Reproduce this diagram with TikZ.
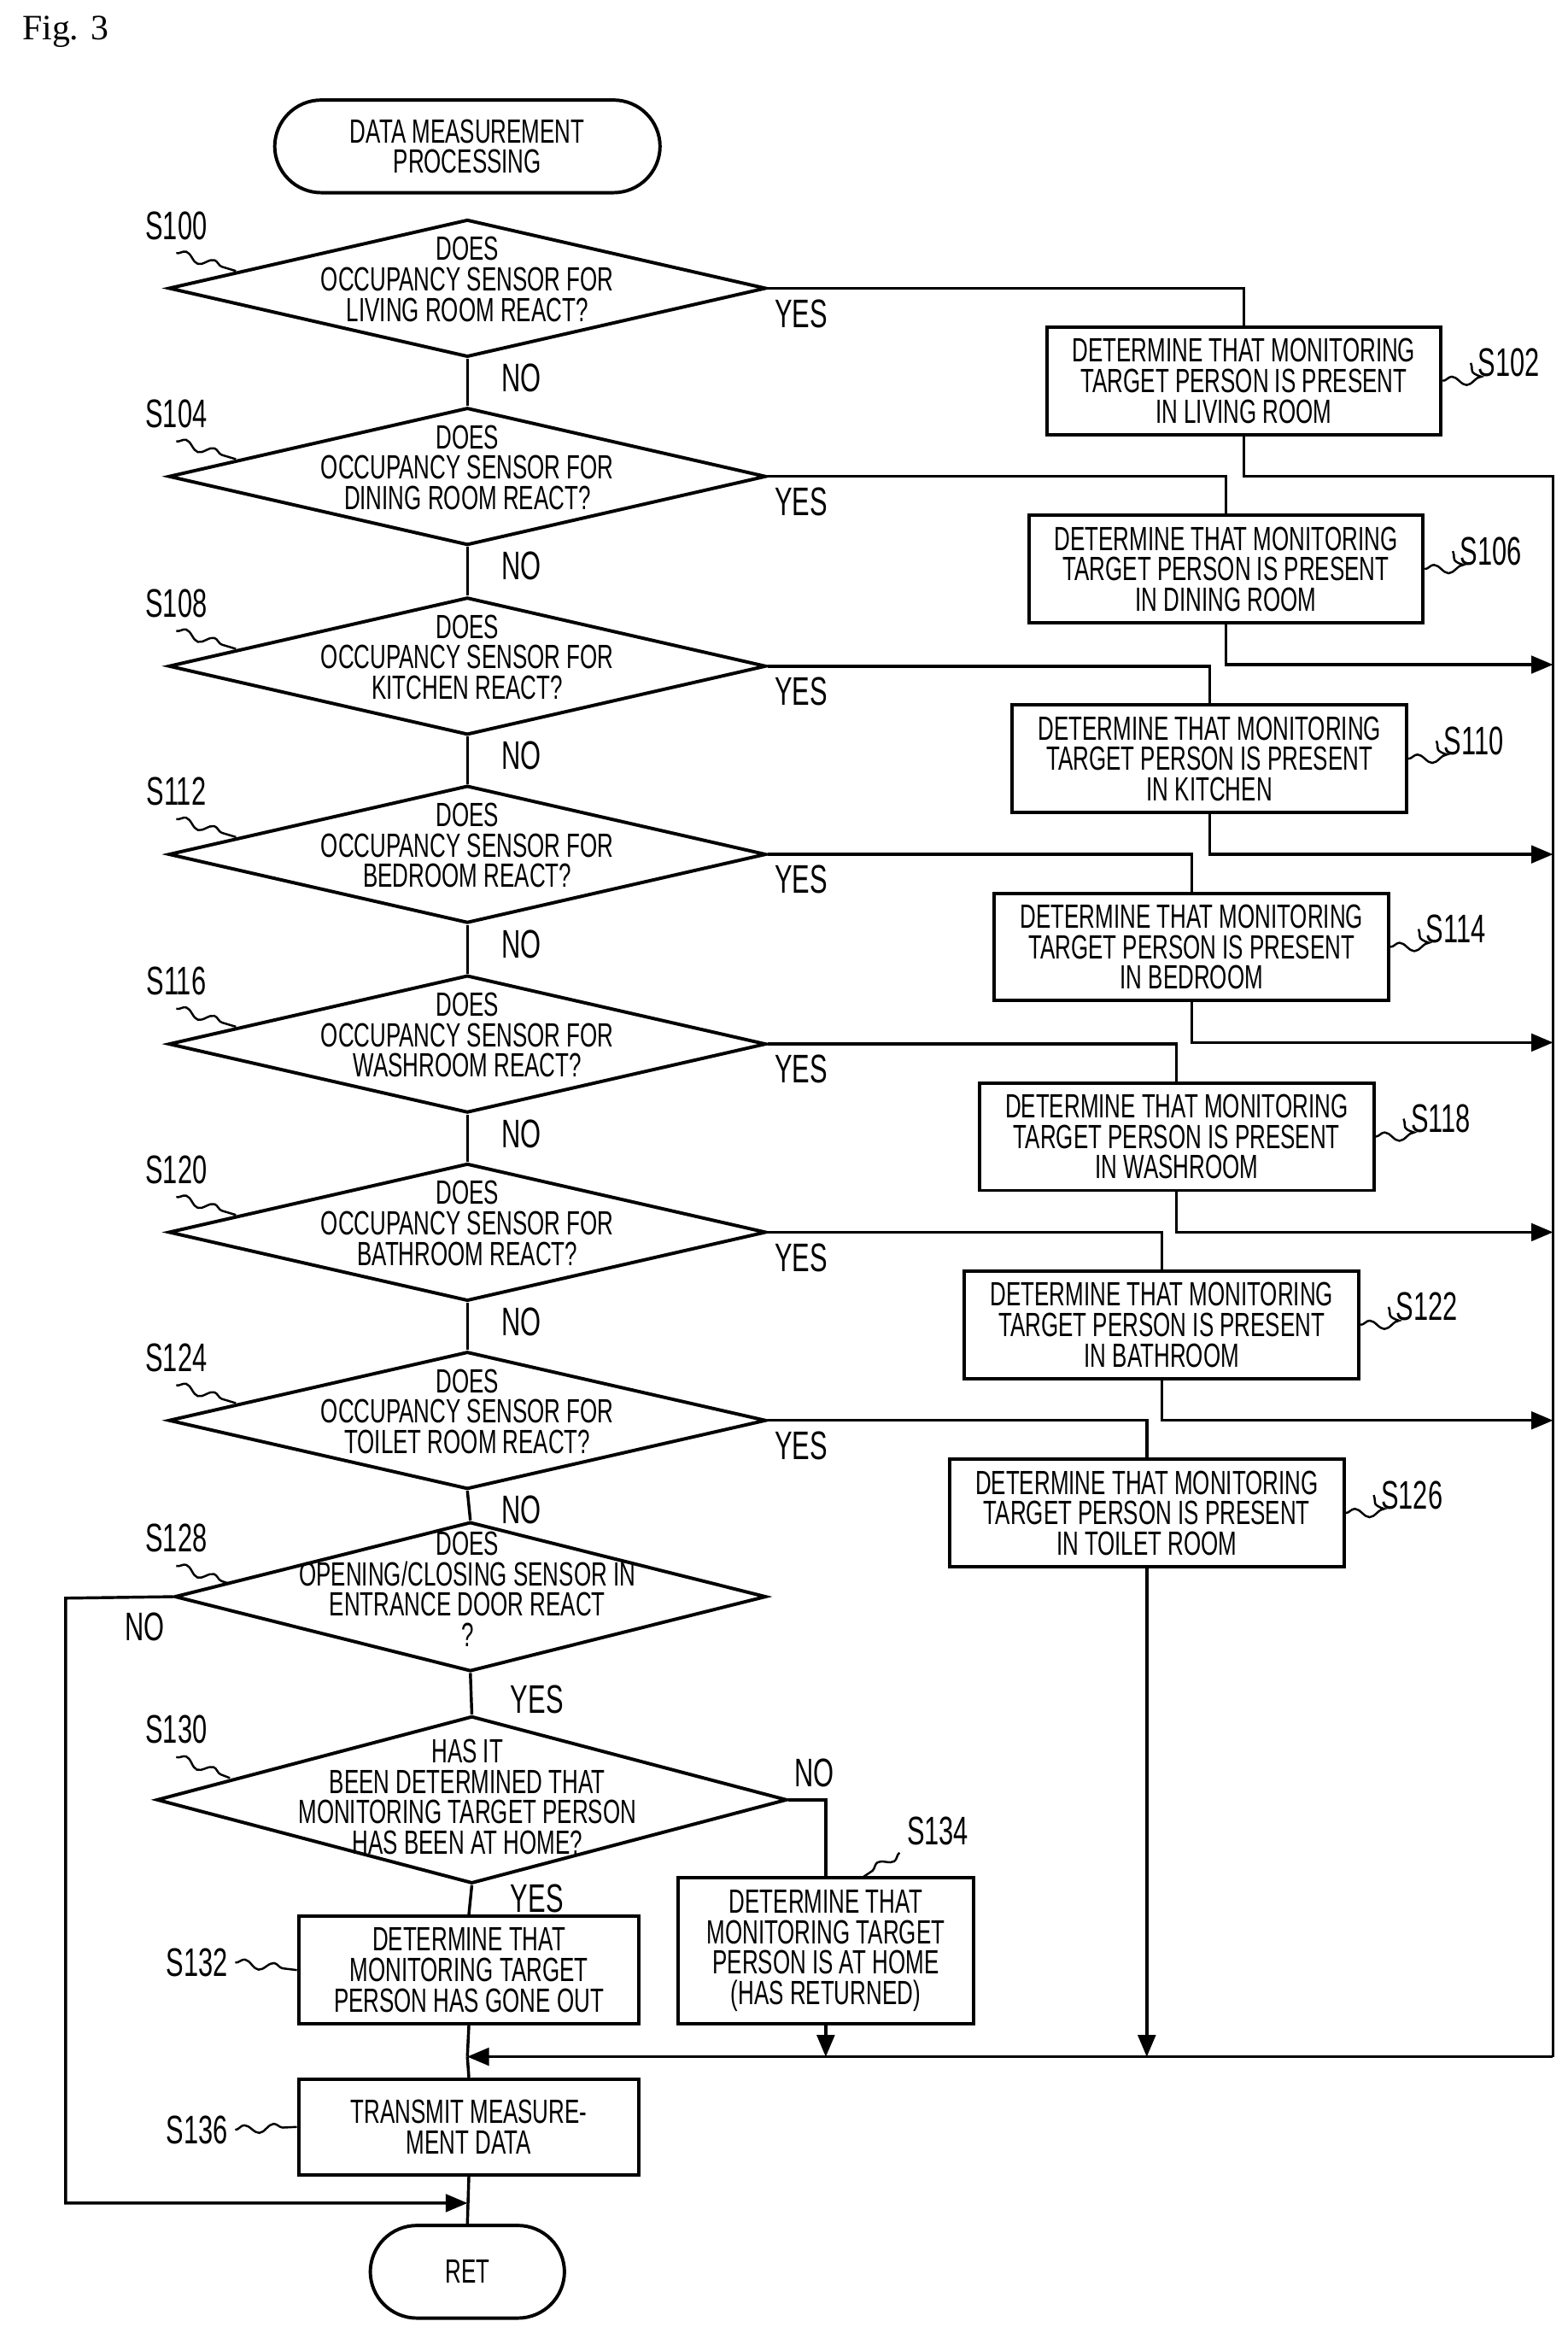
\documentclass[tikz,border=0pt]{standalone}
\usepackage{fontspec}
\setmainfont{Liberation Sans}[FakeStretch=0.66]
\newfontfamily\figfont{Liberation Serif}
\usetikzlibrary{shapes.geometric, arrows, decorations.pathmorphing}

\tikzset{
  dec/.style={diamond, draw, line width=1.6pt, minimum width=10cm, minimum height=2.3cm, inner sep=0pt},
  box/.style={rectangle, draw, line width=1.6pt, minimum width=6.6cm, minimum height=1.8cm},
  term/.style={rectangle, rounded corners=0.78cm, draw, line width=1.6pt, minimum height=1.55cm},
  txt/.style={align=center, font=\fontsize{16}{14.5}\selectfont, inner sep=0pt},
  slabel/.style={font=\fontsize{19}{19}\selectfont},
  line/.style={line width=1.4pt},
  arr/.style={line width=1.4pt, -triangle 45},
  tilde/.style={line width=1pt, decorate, decoration={snake, amplitude=2pt, segment length=14pt}}
}

\begin{document}
\begin{tikzpicture}[x=0.025cm,y=-0.025cm]
\useasboundingbox (0,0) rectangle (1050,1562);
\node[anchor=west, font=\figfont\fontsize{17}{17}\selectfont] at (10,21) {Fig. 3};

% start
\node[term, minimum width=6.45cm] (start) at (313,98) {};
\node[txt] at (start) {DATA MEASUREMENT\\PROCESSING};

% room decisions
\foreach \n/\y/\room/\bx/\s/\t in {
  1/193/LIVING ROOM/833/S100/S102,
  2/319/DINING ROOM/821/S104/S106,
  3/446/KITCHEN/810/S108/S110,
  4/572/BEDROOM/798/S112/S114,
  5/699/WASHROOM/788/S116/S118,
  6/825/BATHROOM/778/S120/S122,
  7/951/TOILET ROOM/768/S124/S126}{
  \node[dec] (d\n) at (313,\y) {};
  \node[txt] at (313,\y-6) {DOES\\OCCUPANCY SENSOR FOR\\\room\ REACT?};
  \node[box] (b\n) at (\bx,\y+62) {};
  \node[txt] at (b\n) {DETERMINE THAT MONITORING\\TARGET PERSON IS PRESENT\\IN \room};
  \node[slabel] (sl\n) at (118,\y-42) {\s};
  \draw[tilde] (sl\n.south)++(0,4) -- ++(40,12);
  \node[slabel, anchor=west] (sr\n) at (\bx+152,\y+50) {\t};
  \draw[tilde] (b\n.east) -- ++(22,0) -- (sr\n.west);
  \draw[line] (d\n.east) -| (b\n.north);
  \node[slabel, anchor=west] at (514,\y+17) {YES};
  \node[slabel, anchor=west] at (331,\y+60) {NO};
}
\foreach \a/\b in {1/2,2/3,3/4,4/5,5/6,6/7}
  \draw[line] (d\a.south) -- (d\b.north);

% collector on the right
\coordinate (c1) at (1040,319);
\coordinate (cb) at (1040,1377);
\draw[line] (b1.south) |- (c1) -- (cb);
\foreach \n/\y in {2/445,3/572,4/698,5/825,6/951}
  \draw[arr] (b\n.south) |- (1040,\y);

% entrance door
\node[dec, minimum width=9.9cm, minimum height=2.5cm] (d8) at (315,1069) {};
\node[txt] at (313,1064) {DOES\\OPENING/CLOSING SENSOR IN\\ENTRANCE DOOR REACT\\?};
\node[slabel] (sl8) at (118,1030) {S128};
\draw[tilde] (sl8.south)++(0,4) -- ++(36,12);
\draw[line] (d7.south) -- (d8.north);

% at home?
\node[dec, minimum width=10.55cm, minimum height=2.8cm] (d9) at (316,1205) {};
\node[txt] at (313,1203) {HAS IT\\BEEN DETERMINED THAT\\MONITORING TARGET PERSON\\HAS BEEN AT HOME?};
\node[slabel] (sl9) at (118,1158) {S130};
\draw[tilde] (sl9.south)++(0,4) -- ++(36,14);
\draw[line] (d8.south) -- (d9.north);
\node[slabel, anchor=west] at (337,1138) {YES};

\node[box, minimum width=5.7cm, minimum height=1.8cm] (b10) at (314,1319) {};
\node[txt] at (b10) {DETERMINE THAT\\MONITORING TARGET\\PERSON HAS GONE OUT};
\node[slabel] (sl10) at (132,1314) {S132};
\draw[tilde] (sl10.east) -- (b10.west);
\draw[line] (d9.south) -- (b10.north);
\node[slabel, anchor=west] at (337,1271) {YES};

\node[box, minimum width=4.95cm, minimum height=2.45cm] (b11) at (553,1306) {};
\node[txt] at (b11) {DETERMINE THAT\\MONITORING TARGET\\PERSON IS AT HOME\\(HAS RETURNED)};
\node[slabel] (sl11) at (628,1226) {S134};
\draw[tilde] (sl11.south west) -- ++(-24,16);
\draw[line] (d9.east) -| (b11.north);
\node[slabel, anchor=west] at (527,1187) {NO};

% merge
\coordinate (m) at (313,1377);
\draw[arr] (cb) -- (m);
\draw[arr] (b7.south) -- (768,1377);
\draw[arr] (b11.south) -- (553,1377);
\draw[line] (b10.south) -- (m);

\node[box, minimum width=5.7cm, minimum height=1.6cm] (b12) at (314,1424) {};
\node[txt] at (b12) {TRANSMIT MEASURE-\\MENT DATA};
\node[slabel] (sl12) at (132,1426) {S136};
\draw[tilde] (sl12.east) -- (b12.west);
\draw[line] (m) -- (b12.north);

% end
\node[term, minimum width=3.25cm] (ret) at (313,1521) {};
\node[txt] at (ret) {RET};
\coordinate (j) at (313,1475);
\draw[line] (b12.south) -- (ret.north);
\draw[arr] (d8.west) -- (44,1070) |- (j);
\node[slabel] at (97,1089) {NO};
\end{tikzpicture}
\end{document}
